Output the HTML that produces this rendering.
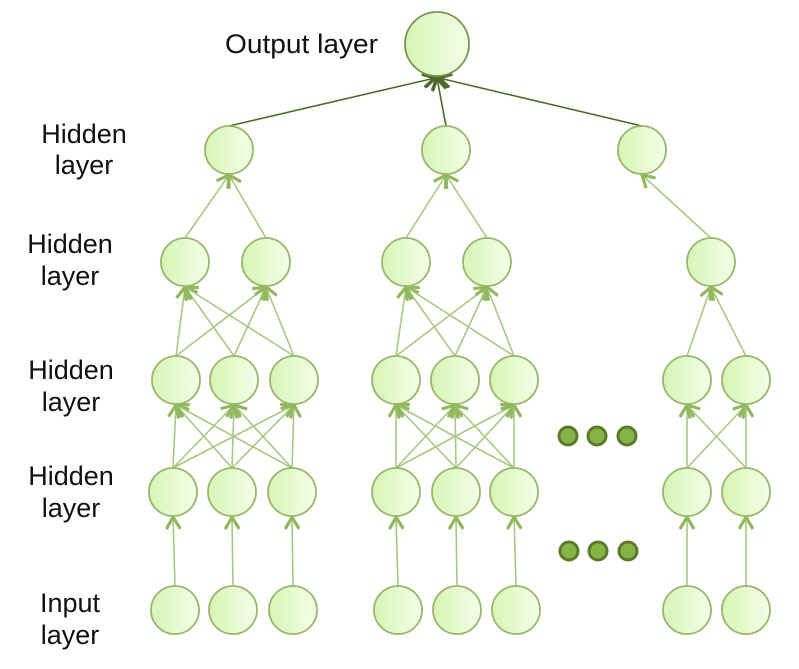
<!DOCTYPE html>
<html><head><meta charset="utf-8"><style>
html,body{margin:0;padding:0;background:#fff;width:799px;height:669px;overflow:hidden}
text{font-family:"Liberation Sans",sans-serif;font-size:27px;fill:#111}
</style></head><body>
<svg width="799" height="669" viewBox="0 0 799 669" xmlns="http://www.w3.org/2000/svg">
<defs>
<linearGradient id="g" x1="0" y1="0" x2="1" y2="0">
<stop offset="0" stop-color="#d8f4b6"/><stop offset="1" stop-color="#f4ffe8"/></linearGradient>
<marker id="a" markerWidth="16" markerHeight="16" refX="13" refY="8" orient="auto" markerUnits="userSpaceOnUse">
<path d="M1,1 L13,8 L1,15" fill="none" stroke="#92b85e" stroke-width="3.2"/></marker>
<marker id="d" markerWidth="16" markerHeight="16" refX="13" refY="8" orient="auto" markerUnits="userSpaceOnUse">
<path d="M1,1 L13,8 L1,15" fill="none" stroke="#4f6a2a" stroke-width="3.5"/></marker>
</defs>
<g stroke="#a9c882" stroke-width="1.6" marker-end="url(#a)">
<line x1="175" y1="586" x2="173" y2="517"/><line x1="233" y1="586" x2="232" y2="517"/><line x1="293" y1="586" x2="292" y2="517"/>
<line x1="173" y1="468" x2="176" y2="405"/><line x1="173" y1="468" x2="234" y2="405"/><line x1="173" y1="468" x2="294" y2="405"/>
<line x1="232" y1="468" x2="176" y2="405"/><line x1="232" y1="468" x2="234" y2="405"/><line x1="232" y1="468" x2="294" y2="405"/>
<line x1="292" y1="468" x2="176" y2="405"/><line x1="292" y1="468" x2="234" y2="405"/><line x1="292" y1="468" x2="294" y2="405"/>
<line x1="176" y1="356" x2="185" y2="287"/><line x1="176" y1="356" x2="266" y2="287"/>
<line x1="234" y1="356" x2="185" y2="287"/><line x1="234" y1="356" x2="266" y2="287"/>
<line x1="294" y1="356" x2="185" y2="287"/><line x1="294" y1="356" x2="266" y2="287"/>
<line x1="185" y1="238" x2="229" y2="175"/><line x1="266" y1="238" x2="229" y2="175"/>
<line x1="398" y1="586" x2="396" y2="517"/><line x1="457" y1="586" x2="456" y2="517"/><line x1="516" y1="586" x2="514" y2="517"/>
<line x1="396" y1="468" x2="396" y2="405"/><line x1="396" y1="468" x2="455" y2="405"/><line x1="396" y1="468" x2="514" y2="405"/>
<line x1="456" y1="468" x2="396" y2="405"/><line x1="456" y1="468" x2="455" y2="405"/><line x1="456" y1="468" x2="514" y2="405"/>
<line x1="514" y1="468" x2="396" y2="405"/><line x1="514" y1="468" x2="455" y2="405"/><line x1="514" y1="468" x2="514" y2="405"/>
<line x1="396" y1="356" x2="406" y2="287"/><line x1="396" y1="356" x2="487" y2="287"/>
<line x1="455" y1="356" x2="406" y2="287"/><line x1="455" y1="356" x2="487" y2="287"/>
<line x1="514" y1="356" x2="406" y2="287"/><line x1="514" y1="356" x2="487" y2="287"/>
<line x1="406" y1="238" x2="446" y2="175"/><line x1="487" y1="238" x2="446" y2="175"/>
<line x1="687" y1="586" x2="687" y2="517"/><line x1="746" y1="586" x2="746" y2="517"/>
<line x1="687" y1="468" x2="687" y2="405"/><line x1="687" y1="468" x2="746" y2="405"/>
<line x1="746" y1="468" x2="687" y2="405"/><line x1="746" y1="468" x2="746" y2="405"/>
<line x1="687" y1="356" x2="711" y2="287"/><line x1="746" y1="356" x2="711" y2="287"/>
<line x1="711" y1="238" x2="642" y2="175"/>
</g>
<g stroke="#4f6a2a" stroke-width="1.6" marker-end="url(#d)">
<line x1="229" y1="126" x2="435" y2="78"/><line x1="446" y1="126" x2="437" y2="78"/><line x1="642" y1="126" x2="439" y2="78"/>
</g>
<g fill="url(#g)" stroke="#96b86a" stroke-width="1.8">
<circle cx="437" cy="44" r="32" stroke="#7a9550"/>
<circle cx="229" cy="150" r="24"/><circle cx="446" cy="150" r="24"/><circle cx="642" cy="150" r="24"/>
<circle cx="185" cy="262" r="24"/><circle cx="266" cy="262" r="24"/><circle cx="406" cy="262" r="24"/><circle cx="487" cy="262" r="24"/><circle cx="711" cy="262" r="24"/>
<circle cx="176" cy="380" r="24"/><circle cx="234" cy="380" r="24"/><circle cx="294" cy="380" r="24"/><circle cx="396" cy="380" r="24"/><circle cx="455" cy="380" r="24"/><circle cx="514" cy="380" r="24"/><circle cx="687" cy="380" r="24"/><circle cx="746" cy="380" r="24"/>
<circle cx="173" cy="492" r="24"/><circle cx="232" cy="492" r="24"/><circle cx="292" cy="492" r="24"/><circle cx="396" cy="492" r="24"/><circle cx="456" cy="492" r="24"/><circle cx="514" cy="492" r="24"/><circle cx="687" cy="492" r="24"/><circle cx="746" cy="492" r="24"/>
<circle cx="175" cy="610" r="24"/><circle cx="233" cy="610" r="24"/><circle cx="293" cy="610" r="24"/><circle cx="398" cy="610" r="24"/><circle cx="457" cy="610" r="24"/><circle cx="516" cy="610" r="24"/><circle cx="687" cy="610" r="24"/><circle cx="746" cy="610" r="24"/>
</g>
<g fill="#86b447" stroke="#5b7a2a" stroke-width="3">
<circle cx="568" cy="436" r="9"/><circle cx="597" cy="436" r="9"/><circle cx="627" cy="436" r="9"/>
<circle cx="569" cy="551" r="9"/><circle cx="598" cy="551" r="9"/><circle cx="628" cy="551" r="9"/>
</g>
<text x="225" y="53" textLength="153" lengthAdjust="spacingAndGlyphs">Output layer</text>
<g text-anchor="middle">
<text x="84" y="143">Hidden</text><text x="84" y="174">layer</text>
<text x="70" y="253">Hidden</text><text x="70" y="285">layer</text>
<text x="71" y="379">Hidden</text><text x="71" y="411">layer</text>
<text x="71" y="485">Hidden</text><text x="71" y="517">layer</text>
<text x="70" y="612">Input</text><text x="70" y="644">layer</text>
</g>
</svg>
</body></html>
